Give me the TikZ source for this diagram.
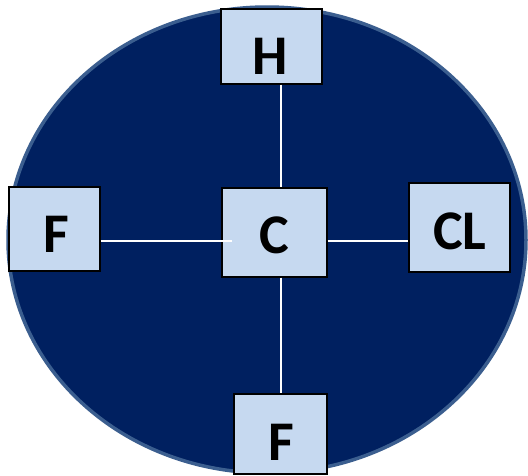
\documentclass[tikz,border=0pt]{standalone}
\usepackage{fontspec}
\setmainfont{Carlito}
\usetikzlibrary{positioning}
\definecolor{navyfill}{HTML}{002060}
\definecolor{rimblue}{HTML}{3B5E8F}
\definecolor{boxblue}{HTML}{C6D9F0}
\tikzset{
  atom/.style={draw=black, line width=2pt, fill=boxblue, inner sep=0pt},
  sym/.style={font=\fontsize{56}{56}\selectfont\bfseries, inner sep=0pt},
  bond/.style={white, line width=1.6pt}
}

\begin{document}
\begin{tikzpicture}[x=1pt,y=-1pt]
\useasboundingbox (0,0) rectangle (528,475);
% molecule outline
\draw[fill=navyfill, draw=rimblue, line width=3.5pt] (267,240) ellipse [x radius=259, y radius=233];

\coordinate (junc) at (281,241);

% atom boxes
\node[atom, minimum width=101pt, minimum height=75pt] (H) at (271,46) {};
\node[atom, minimum width=105pt, minimum height=89pt] (C) at (274,232) {};
\node[atom, minimum width=91pt, minimum height=84pt] (F1) at (54,229) {};
\node[atom, minimum width=101pt, minimum height=89pt] (CL) at (459,227) {};
\node[atom, minimum width=93pt, minimum height=80pt] (F2) at (280,434) {};

% bonds
\coordinate (Cin) at (232,241);
\draw[bond] (junc |- H.south) -- (junc |- C.north);
\draw[bond] (junc |- C.south) -- (junc |- F2.north);
\draw[bond] (C.east |- junc) -- (CL.west |- junc);
\draw[bond] (F1.east |- junc) -- (Cin);

% symbols
\node[sym] (Hsym) at (270,56) {H};
\node[sym] (Csym) at (274,235) {C};
\node[sym] (F1sym) at (56,234) {F};
\node[sym] (CLsym) at (460,231) {CL};
\node[sym] (F2sym) at (281,442) {F};
\end{tikzpicture}
\end{document}
